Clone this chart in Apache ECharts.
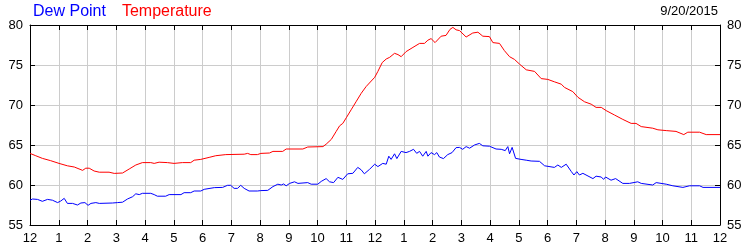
<!DOCTYPE html>
<html>
<head>
<meta charset="utf-8">
<script src="https://cdn.jsdelivr.net/npm/echarts@6/dist/echarts.min.js"></script>
<style>
html,body{margin:0;padding:0;background:#fff;}
#chart{width:750px;height:250px;}
</style>
</head>
<body>
<div id="chart"></div>
<script>
// ---- data (hours since midnight, degrees F) ----
var dateLabel = '9/20/2015';
var seriesNames = ['Dew Point', 'Temperature'];
var hourTicks = [0,1,2,3,4,5,6,7,8,9,10,11,12,13,14,15,16,17,18,19,20,21,22,23,24];
var tickLabels = ['12','1','2','3','4','5','6','7','8','9','10','11','12','1','2','3','4','5','6','7','8','9','10','11','12'];
var yTicks = [55,60,65,70,75,80];

var tempHours = [0,0.2,0.43,0.72,1.01,1.3,1.54,1.83,1.94,2.06,2.23,2.41,2.75,2.93,3.22,3.45,3.68,3.91,4.2,4.32,4.49,4.78,5.01,5.3,5.59,5.71,5.94,6.23,6.46,6.81,7.45,7.57,7.68,7.91,8.03,8.33,8.45,8.79,8.91,9.49,9.66,10.19,10.3,10.48,10.65,10.77,10.88,11.0,11.17,11.34,11.52,11.69,11.87,11.99,12.1,12.25,12.39,12.51,12.68,12.8,12.91,13.08,13.32,13.55,13.72,13.84,13.95,14.09,14.3,14.47,14.61,14.71,14.82,14.94,15.17,15.4,15.58,15.75,15.98,16.1,16.33,16.5,16.68,16.85,17.03,17.26,17.55,17.78,18.01,18.24,18.48,18.59,18.88,19.06,19.29,19.52,19.69,19.87,20.04,20.33,20.62,20.91,21.08,21.26,21.66,21.84,22.13,22.47,22.74,22.88,23.29,23.52,24];
var tempValues = [63.95,63.66,63.33,63.04,62.7,62.4,62.25,61.83,62.1,62.1,61.75,61.6,61.6,61.45,61.5,62.0,62.5,62.8,62.8,62.7,62.85,62.8,62.7,62.8,62.8,63.1,63.2,63.45,63.66,63.8,63.85,63.95,63.8,63.8,63.95,64.0,64.2,64.2,64.5,64.5,64.75,64.8,65.1,65.7,66.7,67.4,67.7,68.4,69.4,70.4,71.46,72.3,73.0,73.46,74.2,75.3,75.75,75.96,76.46,76.3,76.04,76.67,77.2,77.7,77.7,78.1,78.3,77.8,78.6,78.7,79.46,79.7,79.4,79.3,78.5,79.0,79.1,78.6,78.55,77.8,77.7,76.8,76.04,75.7,75.1,74.4,74.2,73.3,73.2,72.9,72.6,72.2,71.67,70.96,70.4,70.1,69.7,69.7,69.3,68.75,68.2,67.7,67.7,67.3,67.1,66.9,66.8,66.7,66.3,66.6,66.6,66.3,66.3];

var dewHours = [0,0.09,0.26,0.43,0.61,0.78,0.96,1.07,1.19,1.3,1.48,1.65,1.77,1.91,2.02,2.12,2.29,2.41,2.87,3.04,3.22,3.39,3.57,3.68,3.8,3.91,4.2,4.32,4.43,4.72,4.84,5.25,5.36,5.59,5.71,5.94,6.06,6.41,6.7,6.87,6.98,7.1,7.22,7.33,7.45,7.62,7.91,8.03,8.27,8.45,8.62,8.74,8.82,8.91,9.03,9.2,9.32,9.66,9.78,10.01,10.13,10.3,10.42,10.56,10.71,10.88,11.05,11.23,11.4,11.52,11.63,11.81,11.99,12.1,12.27,12.39,12.48,12.56,12.68,12.76,12.91,13.08,13.2,13.34,13.45,13.55,13.66,13.78,13.84,13.95,14.07,14.15,14.24,14.38,14.53,14.68,14.82,14.94,15.05,15.17,15.29,15.46,15.63,15.75,15.98,16.21,16.39,16.45,16.53,16.62,16.68,16.77,16.89,17.08,17.26,17.43,17.72,17.9,18.24,18.36,18.48,18.65,18.83,18.92,19.02,19.11,19.23,19.58,19.69,19.87,19.95,20.02,20.21,20.37,20.62,20.85,21.14,21.26,21.66,21.78,22.13,22.36,22.71,22.94,23.29,23.41,24];
var dewValues = [58.1,58.25,58.2,57.96,58.2,58.1,57.8,58.0,58.33,57.7,57.7,57.5,57.75,57.8,57.46,57.7,57.8,57.7,57.75,57.8,57.85,58.25,58.54,58.9,58.8,58.96,58.96,58.8,58.6,58.6,58.8,58.8,59.04,59.04,59.25,59.25,59.46,59.67,59.7,59.96,59.96,59.58,59.58,59.96,59.58,59.25,59.25,59.3,59.33,59.8,60.1,60.0,60.13,59.9,60.2,60.4,60.2,60.3,60.1,60.1,60.45,60.8,60.4,60.3,60.96,60.7,61.4,61.46,62.2,61.9,61.4,61.96,62.6,62.3,62.7,62.6,63.6,63.2,63.9,63.3,64.2,64.05,64.2,64.46,63.96,64.2,63.6,64.2,63.6,64.05,63.8,64.05,63.5,63.3,63.8,64.05,64.67,64.7,64.46,64.8,64.6,65.0,65.2,64.9,64.85,64.5,64.46,64.7,64.3,64.8,63.9,64.7,63.33,63.2,63.1,63.0,62.96,62.4,62.2,62.5,62.2,62.6,61.67,61.25,61.67,61.25,61.46,60.8,61.1,61.0,60.7,61.0,60.6,60.8,60.2,60.2,60.4,60.2,60.0,60.3,60.1,59.9,59.7,59.9,59.9,59.7,59.7];

function pairs(xs, ys) { return xs.map(function (x, i) { return [x, ys[i]]; }); }

var FONT = '"Liberation Sans", Arial, sans-serif';
var tickLabelFor = function (v) { var i = hourTicks.indexOf(Math.round(v)); return i >= 0 ? tickLabels[i] : ''; };

var chart = echarts.init(document.getElementById('chart'), null, {renderer: 'canvas'});
var axisLineStyle = {color: '#000', width: 1};
var option = {
  animation: false,
  backgroundColor: '#fff',
  title: {
    text: dateLabel, right: 32, top: 5, padding: 0,
    textStyle: {fontSize: 13, fontWeight: 'normal', color: '#000', fontFamily: FONT}
  },
  legend: {
    left: 27, top: 4, padding: 0, itemWidth: 0, itemHeight: 0, itemGap: 10,
    selectedMode: false,
    textStyle: {fontSize: 16, fontFamily: FONT},
    data: [
      {name: seriesNames[0], textStyle: {color: '#0000ff'}},
      {name: seriesNames[1], textStyle: {color: '#ff0000'}}
    ]
  },
  grid: {left: 30, right: 30, top: 25, bottom: 25, containLabel: false, outerBoundsMode: 'none'},
  xAxis: [
    {
      type: 'value', position: 'bottom', min: hourTicks[0], max: hourTicks[hourTicks.length - 1], interval: 1,
      axisLine: {show: true, onZero: false, lineStyle: axisLineStyle},
      axisTick: {show: true, inside: true, length: 5, lineStyle: axisLineStyle},
      axisLabel: {show: true, margin: 7, fontSize: 13, color: '#000', fontFamily: FONT, formatter: tickLabelFor},
      splitLine: {show: true, lineStyle: {color: '#cccccc', width: 1}}
    },
    {
      type: 'value', position: 'top', min: hourTicks[0], max: hourTicks[hourTicks.length - 1], interval: 1,
      axisLine: {show: true, onZero: false, lineStyle: axisLineStyle},
      axisTick: {show: true, inside: true, length: 5, lineStyle: axisLineStyle},
      axisLabel: {show: false},
      splitLine: {show: false}
    }
  ],
  yAxis: [
    {
      type: 'value', position: 'left', min: yTicks[0], max: yTicks[yTicks.length - 1], interval: 5,
      axisLine: {show: true, onZero: false, lineStyle: axisLineStyle},
      axisTick: {show: true, inside: true, length: 5, lineStyle: axisLineStyle},
      axisLabel: {show: true, margin: 7, fontSize: 13, color: '#000', fontFamily: FONT},
      splitLine: {show: true, lineStyle: {color: '#cccccc', width: 1}}
    },
    {
      type: 'value', position: 'right', min: yTicks[0], max: yTicks[yTicks.length - 1], interval: 5,
      axisLine: {show: true, onZero: false, lineStyle: axisLineStyle},
      axisTick: {show: true, inside: true, length: 5, lineStyle: axisLineStyle},
      axisLabel: {show: true, margin: 7, fontSize: 13, color: '#000', fontFamily: FONT},
      splitLine: {show: false}
    }
  ],
  series: [
    {
      name: seriesNames[0], type: 'line', xAxisIndex: 0, yAxisIndex: 0,
      showSymbol: false, symbol: 'none', color: '#0000ff',
      lineStyle: {color: '#0000ff', width: 1},
      data: pairs(dewHours, dewValues)
    },
    {
      name: seriesNames[1], type: 'line', xAxisIndex: 0, yAxisIndex: 0,
      showSymbol: false, symbol: 'none', color: '#ff0000',
      lineStyle: {color: '#ff0000', width: 1},
      data: pairs(tempHours, tempValues)
    }
  ]
};
chart.setOption(option);
</script>
</body>
</html>
